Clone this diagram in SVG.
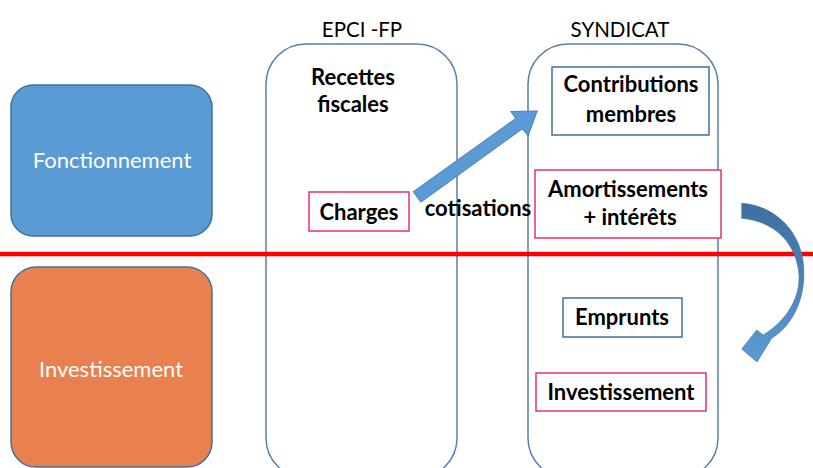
<svg xmlns="http://www.w3.org/2000/svg" width="813" height="468" viewBox="0 0 813 468">
<defs>
<style>
.t{font-family:Lato,"Liberation Sans",sans-serif;fill:#000;text-anchor:middle}
.b{font-weight:bold;font-size:22px}
.h{font-size:20.5px}
.w{fill:#fff;font-size:22px}
.cont{fill:none;stroke:#5a7fa8;stroke-width:1.5}
.pink{fill:#fff;stroke:#e2336d;stroke-width:1.5}
.blue{fill:#fff;stroke:#41719c;stroke-width:1.5}
</style>
<linearGradient id="cg" x1="0" y1="0" x2="0" y2="1">
<stop offset="0" stop-color="#3d6e9f"/>
<stop offset="1" stop-color="#5b9bd5"/>
</linearGradient>
</defs>
<rect width="813" height="468" fill="#fff"/>
<g id="fonctionnement">
<rect x="11" y="85" width="201" height="151" rx="22" fill="#5b9bd5" stroke="#41719c" stroke-width="1.5"/>
<text class="t w" x="112" y="168">Fonctionnement</text>
</g>
<g id="investissement-left">
<rect x="11" y="267" width="201" height="200" rx="25" fill="#e9804f" stroke="#41719c" stroke-width="1.5"/>
<text class="t w" x="111" y="377">Investissement</text>
</g>
<g id="epci">
<text class="t h" x="362" y="37">EPCI -FP</text>
<rect class="cont" x="266" y="44" width="191" height="434" rx="40"/>
<text class="t b" x="353" y="85">Recettes</text>
<text class="t b" x="353" y="112">fiscales</text>
</g>
<g id="charges">
<rect class="pink" x="309" y="192" width="100" height="39"/>
<text class="t b" x="359" y="220">Charges</text>
</g>
<g id="syndicat">
<text class="t h" x="620" y="37">SYNDICAT</text>
<rect class="cont" x="528" y="44" width="190" height="434" rx="40"/>
</g>
<g id="contributions">
<rect class="blue" x="552" y="67" width="157" height="68"/>
<text class="t b" x="631" y="92">Contributions</text>
<text class="t b" x="631" y="122">membres</text>
</g>
<g id="amortissements">
<rect class="pink" x="535" y="170" width="186" height="68"/>
<text class="t b" x="628" y="197">Amortissements</text>
<text class="t b" x="630" y="225">+ intérêts</text>
</g>
<g id="emprunts">
<rect class="blue" x="563" y="298" width="119" height="39"/>
<text class="t b" x="622" y="325">Emprunts</text>
</g>
<g id="investissement-right">
<rect class="pink" x="536" y="373" width="170" height="38"/>
<text class="t b" x="621" y="400">Investissement</text>
</g>
<line x1="0" y1="254" x2="813" y2="254" stroke="#ff0000" stroke-width="4.5"/>
<g id="connectors">
<polygon points="413.2,191.7 515.6,118.4 510.7,111.5 537.3,110.9 528.1,135.9 522.2,129.0 420.8,202.3" fill="#5b9bd5" stroke="#41719c" stroke-width="0.8"/>
<text class="t b" x="478" y="216">cotisations</text>
<path d="M741.7,203.3 C770,205 795,225 802,255 C808,285 800,320 771.7,338.3 L757,362 L741.7,349 L756.7,330 L763.3,335 C790,318 800,295 799,275 C797,248 780,222 741.7,218.3 Z" fill="url(#cg)" stroke="#41719c" stroke-width="0.6"/>
</g>
</svg>
